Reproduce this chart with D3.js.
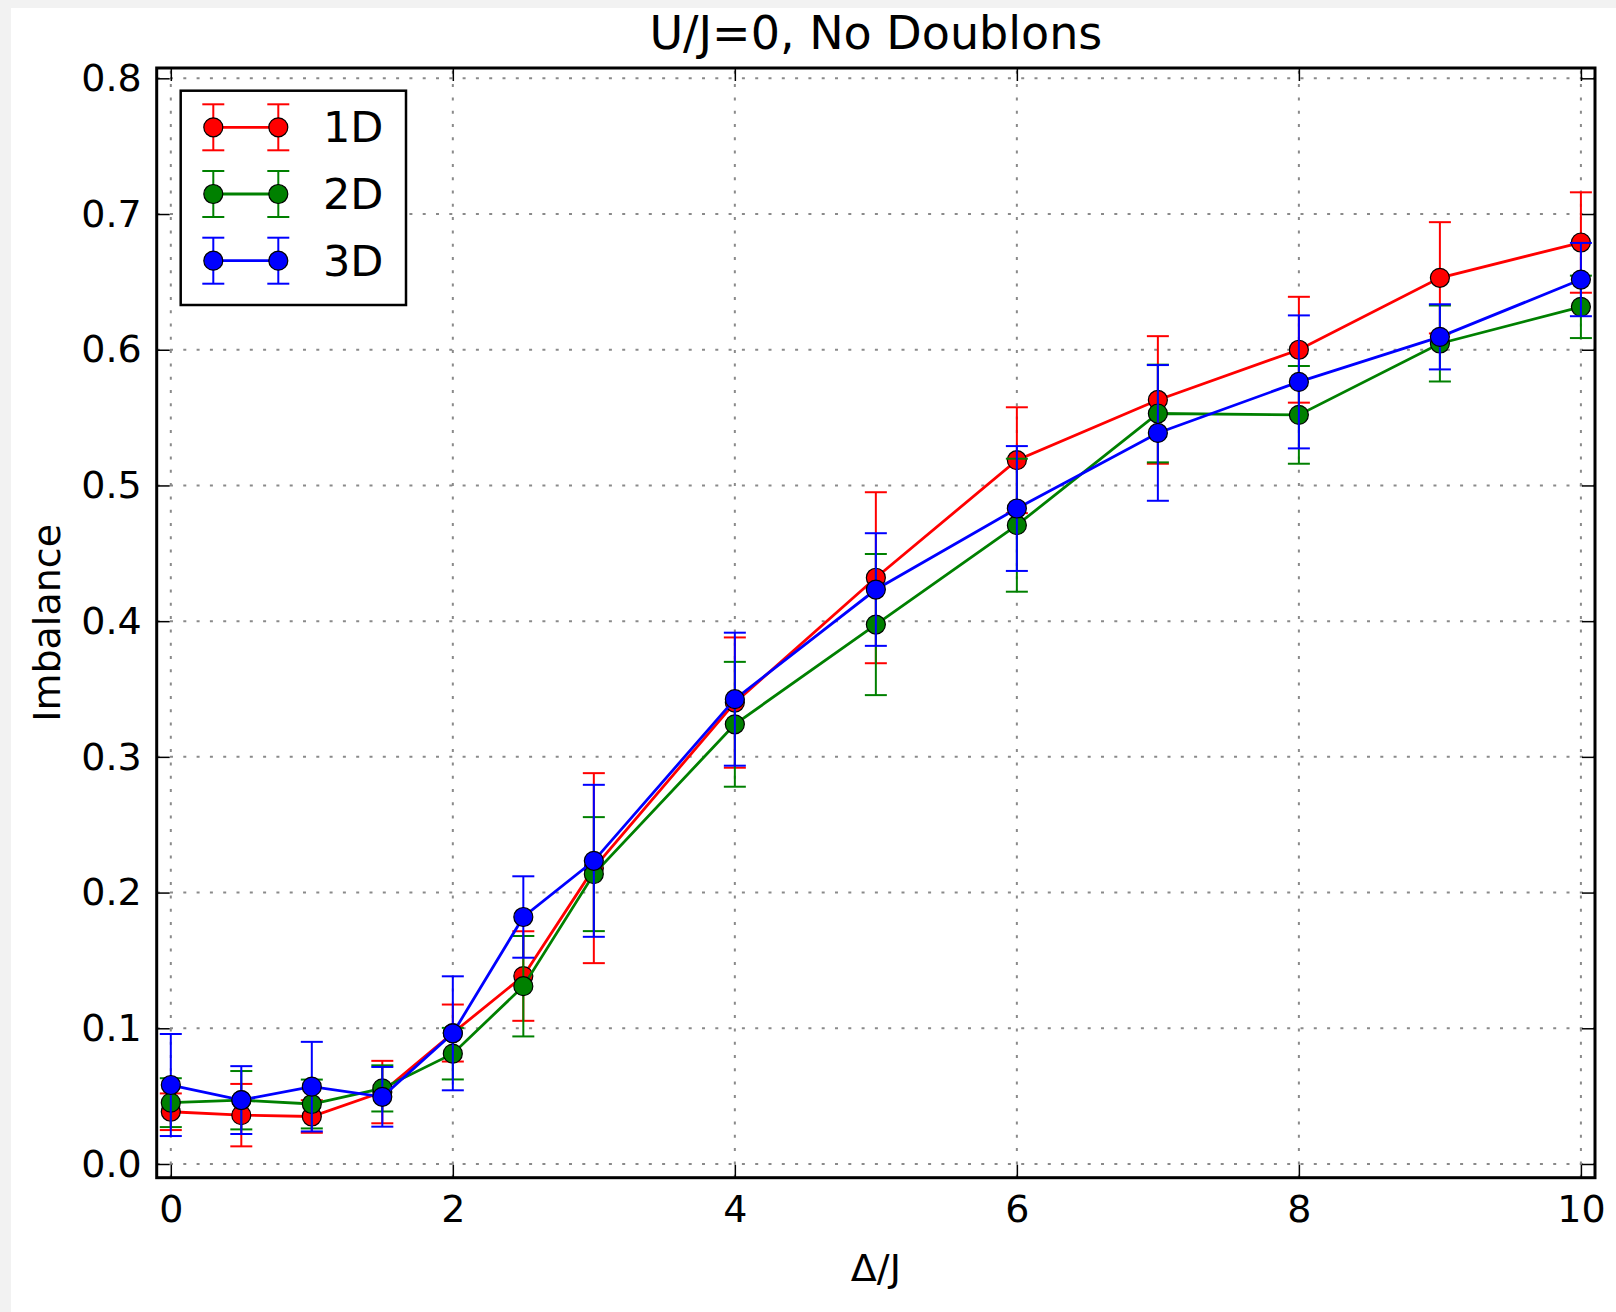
<!DOCTYPE html>
<html>
<head>
<meta charset="utf-8">
<script src="https://cdn.jsdelivr.net/npm/d3@7"></script>
<style>
  body { margin: 0; background: #f2f2f2; }
  text { font-family: "DejaVu Sans", sans-serif; fill: #000; }
</style>
</head>
<body>
<svg id="chart" width="1616" height="1312"></svg>
<script>
// x positions (Delta/J)
const deltaJ = [0, 0.5, 1, 1.5, 2, 2.5, 3, 4, 5, 6, 7, 8, 9, 10];

// imbalance values and symmetric errors
const imb1D = [0.0385, 0.036, 0.035, 0.053, 0.0965, 0.1385, 0.218, 0.340, 0.432, 0.5186, 0.563, 0.600, 0.653, 0.679];
const err1D = [0.0135, 0.023, 0.012, 0.023, 0.021, 0.033, 0.070, 0.048, 0.063, 0.039, 0.047, 0.039, 0.041, 0.037];

const imb2D = [0.0452, 0.047, 0.0442, 0.0557, 0.0813, 0.131, 0.2136, 0.324, 0.3975, 0.4707, 0.553, 0.552, 0.6046, 0.6316];
const err2D = [0.018, 0.0215, 0.018, 0.017, 0.019, 0.037, 0.042, 0.046, 0.052, 0.049, 0.036, 0.036, 0.028, 0.023];

const imb3D = [0.0582, 0.0471, 0.057, 0.0495, 0.0963, 0.182, 0.2234, 0.3425, 0.4233, 0.483, 0.5387, 0.5763, 0.6095, 0.6517];
const err3D = [0.0376, 0.025, 0.033, 0.022, 0.042, 0.030, 0.056, 0.049, 0.0415, 0.046, 0.050, 0.049, 0.024, 0.027];

const seriesNames = ["1D", "2D", "3D"];
const seriesColors = ["#ff0000", "#008000", "#0000ff"];

const xTicks = [0, 2, 4, 6, 8, 10];
const yTicks = [0.0, 0.1, 0.2, 0.3, 0.4, 0.5, 0.6, 0.7, 0.8];

const series = [
    { name: seriesNames[0], color: seriesColors[0], y: imb1D, e: err1D },
    { name: seriesNames[1], color: seriesColors[1], y: imb2D, e: err2D },
    { name: seriesNames[2], color: seriesColors[2], y: imb3D, e: err3D }
];

const svg = d3.select("#chart");

// figure background (light strip at top/left like the screenshot)
svg.append("rect").attr("x", 11).attr("y", 8).attr("width", 1605).attr("height", 1304).attr("fill", "#fff");

const axL = 156.7, axR = 1595, axT = 68, axB = 1177.7;

const x = d3.scaleLinear().domain([-0.1, 10.1]).range([axL, axR]);
const y = d3.scaleLinear().domain([-0.0101, 0.8076]).range([axB, axT]);

// grid
const grid = svg.append("g").attr("stroke", "#8a8a8a").attr("stroke-width", 2).attr("stroke-dasharray", "3 10.3");
grid.selectAll(".gx").data(xTicks).enter().append("line")
    .attr("x1", d => x(d)).attr("x2", d => x(d)).attr("y1", axB).attr("y2", axT);
grid.selectAll(".gy").data(yTicks).enter().append("line")
    .attr("y1", d => y(d)).attr("y2", d => y(d)).attr("x1", axL).attr("x2", axR);

// data
const plot = svg.append("g");
series.forEach(s => {
    const g = plot.append("g");
    const pts = deltaJ.map((d, i) => ({ x: d, y: s.y[i], e: s.e[i] }));

    g.selectAll(".eb").data(pts).enter().append("line")
        .attr("x1", d => x(d.x)).attr("x2", d => x(d.x))
        .attr("y1", d => y(d.y - d.e)).attr("y2", d => y(d.y + d.e))
        .attr("stroke", s.color).attr("stroke-width", 2);
    [-1, 1].forEach(sign => {
        g.selectAll(".cap" + sign).data(pts).enter().append("line")
            .attr("x1", d => x(d.x) - 11).attr("x2", d => x(d.x) + 11)
            .attr("y1", d => y(d.y + sign * d.e)).attr("y2", d => y(d.y + sign * d.e))
            .attr("stroke", s.color).attr("stroke-width", 2);
    });

    g.append("path").datum(pts)
        .attr("fill", "none").attr("stroke", s.color).attr("stroke-width", 2.8)
        .attr("d", d3.line().x(d => x(d.x)).y(d => y(d.y)));

    g.selectAll("circle").data(pts).enter().append("circle")
        .attr("cx", d => x(d.x)).attr("cy", d => y(d.y)).attr("r", 9.5)
        .attr("fill", s.color).attr("stroke", "#000").attr("stroke-width", 1.2);
});

// axes with inward ticks on all four sides
const axes = svg.append("g");
axes.append("g").attr("transform", `translate(0,${axB})`)
    .call(d3.axisBottom(x).tickValues(xTicks).tickFormat(d3.format("d")).tickSize(-13).tickPadding(17));
axes.append("g").attr("transform", `translate(0,${axT})`)
    .call(d3.axisTop(x).tickValues(xTicks).tickFormat("").tickSize(-13));
axes.append("g").attr("transform", `translate(${axL},0)`)
    .call(d3.axisLeft(y).tickValues(yTicks).tickFormat(d3.format(".1f")).tickSize(-13).tickPadding(15));
axes.append("g").attr("transform", `translate(${axR},0)`)
    .call(d3.axisRight(y).tickValues(yTicks).tickFormat("").tickSize(-13));
axes.selectAll(".domain").remove();
axes.selectAll(".tick line").attr("stroke", "#000").attr("stroke-width", 1.5);
axes.selectAll(".tick text").attr("fill", "#000")
    .style("font-family", "DejaVu Sans").style("font-size", "38px");

svg.append("rect").attr("x", axL).attr("y", axT)
    .attr("width", axR - axL).attr("height", axB - axT)
    .attr("fill", "none").attr("stroke", "#000").attr("stroke-width", 3);

// titles
svg.append("text").attr("x", (axL + axR) / 2).attr("y", 49)
    .attr("text-anchor", "middle").style("font-size", "46px").text("U/J=0, No Doublons");
svg.append("text").attr("x", (axL + axR) / 2).attr("y", 1281)
    .attr("text-anchor", "middle").style("font-size", "38px").text("Δ/J");
svg.append("text").attr("transform", `translate(60,${(axT + axB) / 2}) rotate(-90)`)
    .attr("text-anchor", "middle").style("font-size", "38px").text("Imbalance");

// legend
const leg = svg.append("g");
leg.append("rect").attr("x", 180.7).attr("y", 90.7).attr("width", 225.3).attr("height", 214.3)
    .attr("fill", "#fff").attr("stroke", "#000").attr("stroke-width", 2.5);
const rows = leg.selectAll(".row").data(series).enter().append("g")
    .attr("transform", (d, i) => `translate(0,${127.3 + i * 66.7})`);
rows.append("line").attr("x1", 213.3).attr("x2", 278.3).attr("y1", 0).attr("y2", 0)
    .attr("stroke", d => d.color).attr("stroke-width", 2.8);
[213.3, 278.3].forEach(mx => {
    rows.append("line").attr("x1", mx).attr("x2", mx).attr("y1", -23).attr("y2", 23)
        .attr("stroke", d => d.color).attr("stroke-width", 2);
    [-23, 23].forEach(cy => {
        rows.append("line").attr("x1", mx - 11).attr("x2", mx + 11).attr("y1", cy).attr("y2", cy)
            .attr("stroke", d => d.color).attr("stroke-width", 2);
    });
    rows.append("circle").attr("cx", mx).attr("cy", 0).attr("r", 9.5)
        .attr("fill", d => d.color).attr("stroke", "#000").attr("stroke-width", 1.2);
});
rows.append("text").attr("x", 323).attr("y", 15).style("font-size", "43px").text(d => d.name);
</script>
</body>
</html>
